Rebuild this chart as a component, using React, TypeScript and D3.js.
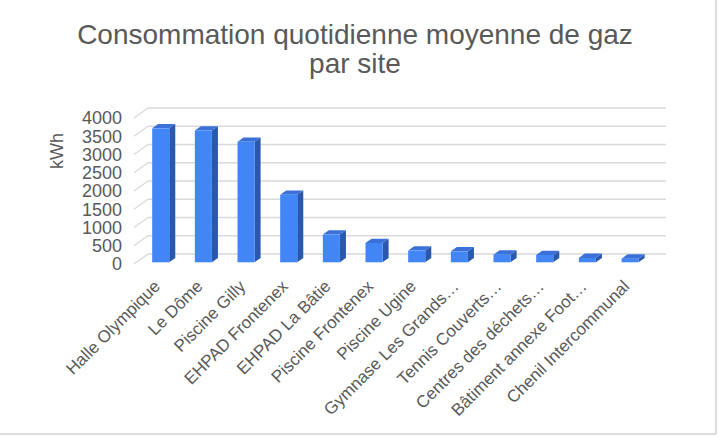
import React from 'react';
import * as d3 from 'd3';

const sites = [
  'Halle Olympique', 'Le Dôme', 'Piscine Gilly', 'EHPAD Frontenex', 'EHPAD La Bâtie',
  'Piscine Frontenex', 'Piscine Ugine', 'Gymnase Les Grands…', 'Tennis Couverts…',
  'Centres des déchets…', 'Bâtiment annexe Foot…', 'Chenil Intercommunal',
];
const kwh = [3670, 3610, 3300, 1850, 760, 530, 320, 300, 210, 200, 120, 100];
const yTicks = [0, 500, 1000, 1500, 2000, 2500, 3000, 3500, 4000];

const W = 719;
const H = 437;
const font = '"Liberation Sans", Arial, sans-serif';
const textColor = '#595959';
const gridColor = '#d9d9d9';

// depth vector of the 3d floor (front -> back)
const depth = { dx: 14, dy: -10 };
const barDepth = { f0: 0.17, f1: 0.6 };

export default function App() {
  const x = d3.scaleBand<string>()
    .domain(sites)
    .range([137, 649])
    .paddingInner(0.6)
    .paddingOuter(0.3);
  const y = d3.scaleLinear().domain([0, 4000]).range([264, 118]);

  const frontLeft = 134;
  const backRight = 666;
  const path = d3.path;

  const bars = sites.map((s, i) => {
    const ox = depth.dx * barDepth.f0;
    const oy = depth.dy * barDepth.f0;
    const sx = depth.dx * (barDepth.f1 - barDepth.f0);
    const sy = depth.dy * (barDepth.f1 - barDepth.f0);
    const x0 = (x(s) || 0) + ox;
    const x1 = x0 + x.bandwidth();
    const yt = y(kwh[i]) + oy;
    const yb = y(0) + oy;
    const side = path();
    side.moveTo(x1, yt); side.lineTo(x1 + sx, yt + sy); side.lineTo(x1 + sx, yb + sy); side.lineTo(x1, yb); side.closePath();
    const top = path();
    top.moveTo(x0, yt); top.lineTo(x0 + sx, yt + sy); top.lineTo(x1 + sx, yt + sy); top.lineTo(x1, yt); top.closePath();
    return (
      <g key={s}>
        <path d={side.toString()} fill="#2a58ad" />
        <path d={top.toString()} fill="#3a70d8" />
        <rect x={x0} y={yt} width={x.bandwidth()} height={yb - yt} fill="#4285f4" />
      </g>
    );
  });

  return (
    <svg width={W} height={H} style={{ position: 'absolute', left: 0, top: 0, background: '#fff' }}>
      <rect width={W} height={H} fill="#fff" />
      <line x1={716} x2={716} y1={0} y2={434} stroke="#dcdcdc" strokeWidth={2} />
      <line x1={0} x2={716} y1={434} y2={434} stroke="#dcdcdc" strokeWidth={2} />

      <text x={355} y={44} textAnchor="middle" fontFamily={font} fontSize={28} fill={textColor}>
        Consommation quotidienne moyenne de gaz
      </text>
      <text x={355} y={73} textAnchor="middle" fontFamily={font} fontSize={28} fill={textColor}>
        par site
      </text>

      {/* gridlines: side diagonal + back wall */}
      {yTicks.map(t => (
        <g key={t}>
          <line x1={frontLeft} y1={y(t)} x2={frontLeft + depth.dx} y2={y(t) + depth.dy} stroke={gridColor} strokeWidth={1.3} />
          <line x1={frontLeft + depth.dx} y1={y(t) + depth.dy} x2={backRight} y2={y(t) + depth.dy} stroke={gridColor} strokeWidth={1.3} />
          <text x={122} y={y(t)} dy="0.35em" textAnchor="end" fontFamily={font} fontSize={18} fill={textColor}>{t}</text>
        </g>
      ))}

      <text transform="translate(63,151) rotate(-90)" textAnchor="middle" fontFamily={font} fontSize={18} fill={textColor}>kWh</text>

      {bars}

      {sites.map(s => {
        const cx = (x(s) || 0) + x.bandwidth() / 2 + depth.dx * barDepth.f0;
        return (
          <text key={s} transform={`translate(${cx - 8},${279}) rotate(-45)`} textAnchor="end" dy="0.7em"
            fontFamily={font} fontSize={17} fill={textColor}>{s}</text>
        );
      })}
    </svg>
  );
}
